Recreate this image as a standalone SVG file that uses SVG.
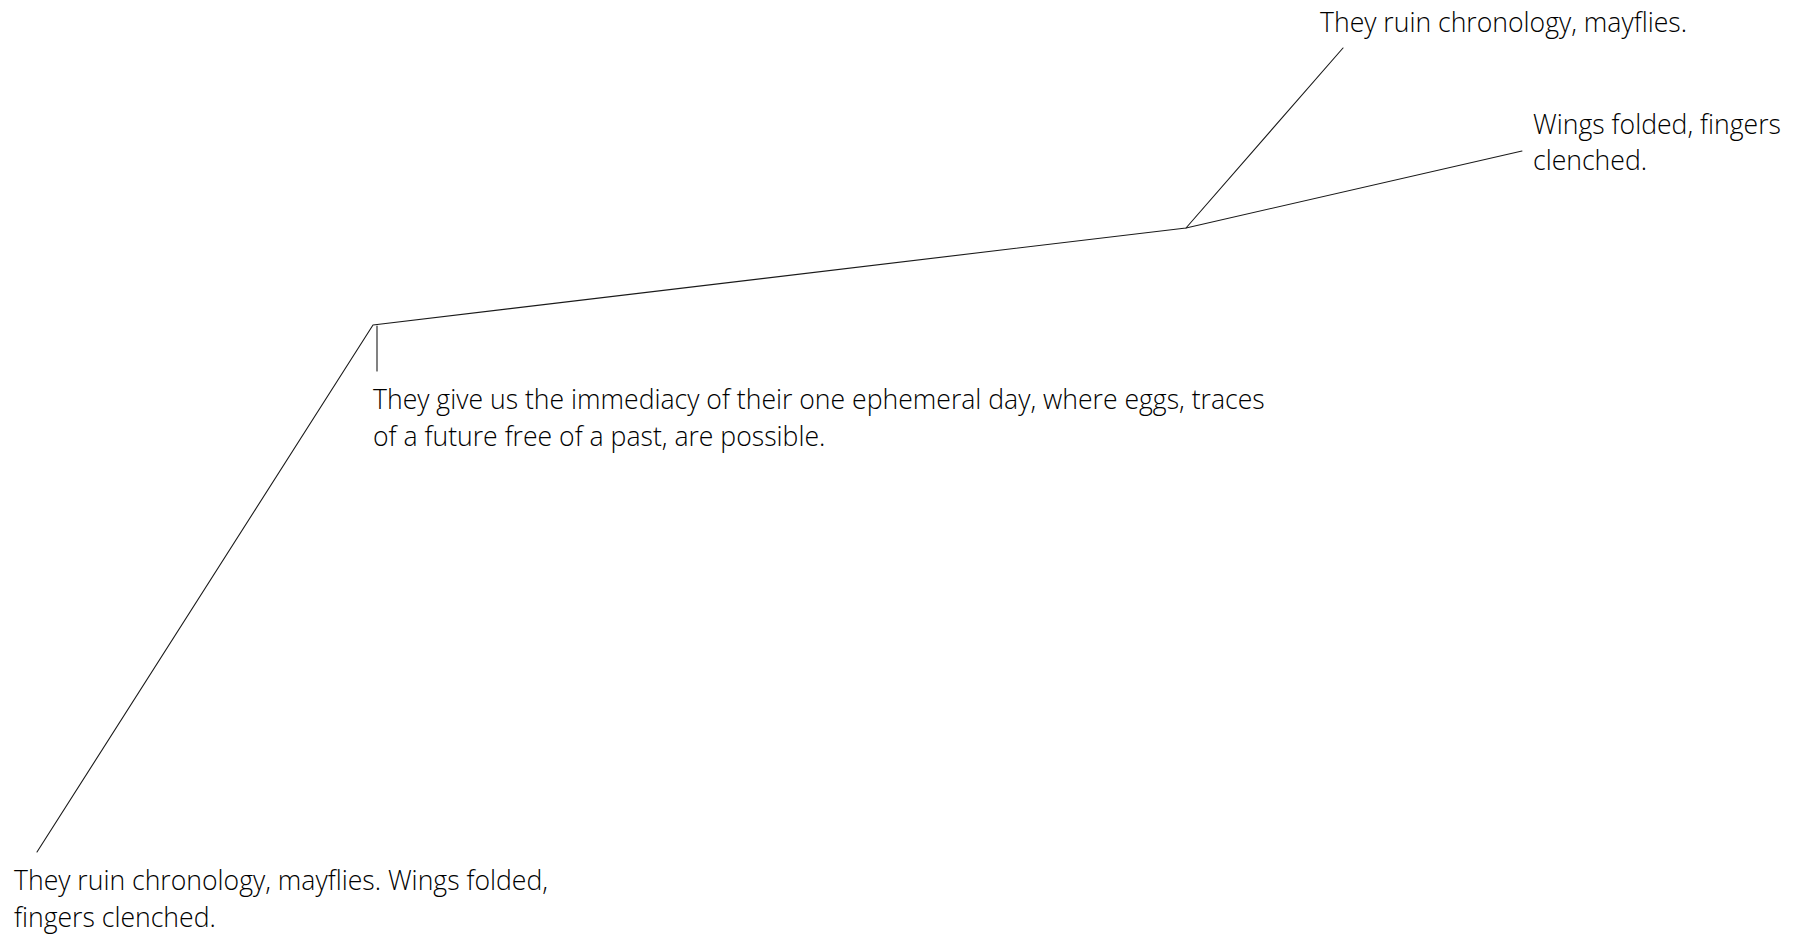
<svg xmlns="http://www.w3.org/2000/svg" width="1813" height="936" viewBox="0 0 1813 936">
  <style>
    .bg { fill: #ffffff; }
    .link { fill: none; stroke: #1a1a1a; stroke-width: 1.1; stroke-linecap: round; stroke-linejoin: round; }
    .label { font-family: "Open Sans", "Noto Sans", "Liberation Sans", sans-serif; font-weight: 300; font-size: 26.6px; fill: #000000; }
  </style>
  <rect class="bg" x="0" y="0" width="1813" height="936"/>

  <!-- connectors -->
  <g id="connectors">
    <polyline class="link" points="37,852 373,325 1186,228 1522,151"/>
    <line class="link" x1="1186" y1="228" x2="1343" y2="48"/>
    <line class="link" x1="377" y1="326" x2="377" y2="371"/>
  </g>

  <!-- nodes -->
  <g id="node-top">
    <text class="label" x="1320" y="32">They ruin chronology, mayflies.</text>
  </g>
  <g id="node-right">
    <text class="label" x="1533" y="134">Wings folded, fingers</text>
    <text class="label" x="1533" y="170">clenched.</text>
  </g>
  <g id="node-middle">
    <text class="label" x="373" y="409">They give us the immediacy of their one ephemeral day, where eggs, traces</text>
    <text class="label" x="373" y="446">of a future free of a past, are possible.</text>
  </g>
  <g id="node-bottom">
    <text class="label" x="14" y="890">They ruin chronology, mayflies. Wings folded,</text>
    <text class="label" x="14" y="927">fingers clenched.</text>
  </g>
</svg>
